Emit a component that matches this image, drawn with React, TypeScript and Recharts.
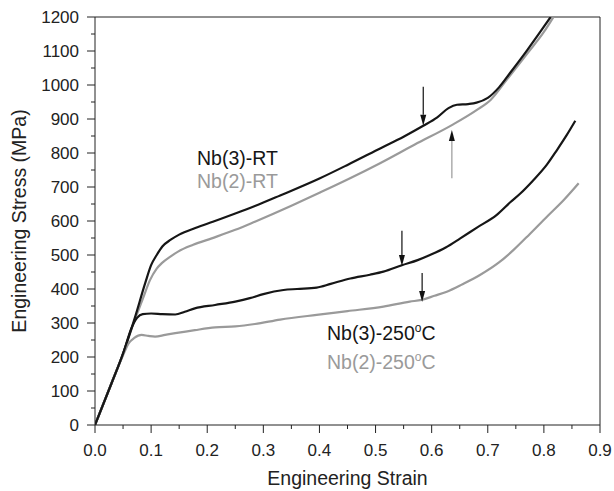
import { LineChart, Line, XAxis, YAxis, ReferenceLine } from "recharts";

const xTicks = [0, 0.05, 0.1, 0.15, 0.2, 0.25, 0.3, 0.35, 0.4, 0.45, 0.5, 0.55, 0.6, 0.65, 0.7, 0.75, 0.8, 0.85, 0.9];
const yTicks = [0, 50, 100, 150, 200, 250, 300, 350, 400, 450, 500, 550, 600, 650, 700, 750, 800, 850, 900, 950, 1000, 1050, 1100, 1150, 1200];

const nb3RT = [
  { strain: 0, stress: 0 }, { strain: 0.03, stress: 125 }, { strain: 0.05, stress: 210 },
  { strain: 0.07, stress: 310 }, { strain: 0.09, stress: 420 }, { strain: 0.1, stress: 470 },
  { strain: 0.11, stress: 500 }, { strain: 0.12, stress: 525 }, { strain: 0.135, stress: 545 },
  { strain: 0.15, stress: 560 }, { strain: 0.18, stress: 580 }, { strain: 0.21, stress: 598 },
  { strain: 0.25, stress: 622 }, { strain: 0.285, stress: 644 }, { strain: 0.33, stress: 675 },
  { strain: 0.4, stress: 725 }, { strain: 0.45, stress: 765 }, { strain: 0.51, stress: 815 },
  { strain: 0.55, stress: 848 }, { strain: 0.585, stress: 880 }, { strain: 0.61, stress: 905 },
  { strain: 0.63, stress: 932 }, { strain: 0.645, stress: 942 }, { strain: 0.665, stress: 944 },
  { strain: 0.68, stress: 948 }, { strain: 0.7, stress: 962 }, { strain: 0.72, stress: 993 },
  { strain: 0.74, stress: 1036 }, { strain: 0.77, stress: 1102 }, { strain: 0.79, stress: 1148 },
  { strain: 0.812, stress: 1200 },
];

const nb2RT = [
  { strain: 0, stress: 0 }, { strain: 0.03, stress: 125 }, { strain: 0.05, stress: 210 },
  { strain: 0.07, stress: 305 }, { strain: 0.085, stress: 370 }, { strain: 0.098, stress: 426 },
  { strain: 0.11, stress: 460 }, { strain: 0.119, stress: 476 }, { strain: 0.135, stress: 496 },
  { strain: 0.148, stress: 510 }, { strain: 0.175, stress: 530 }, { strain: 0.208, stress: 549 },
  { strain: 0.25, stress: 574 }, { strain: 0.285, stress: 598 }, { strain: 0.35, stress: 645 },
  { strain: 0.4, stress: 683 }, { strain: 0.45, stress: 722 }, { strain: 0.508, stress: 770 },
  { strain: 0.57, stress: 825 }, { strain: 0.636, stress: 882 }, { strain: 0.68, stress: 926 },
  { strain: 0.705, stress: 956 }, { strain: 0.734, stress: 1016 }, { strain: 0.77, stress: 1092 },
  { strain: 0.8, stress: 1156 }, { strain: 0.817, stress: 1200 },
];

const nb3HT = [
  { strain: 0, stress: 0 }, { strain: 0.03, stress: 125 }, { strain: 0.05, stress: 210 },
  { strain: 0.065, stress: 285 }, { strain: 0.075, stress: 315 }, { strain: 0.085, stress: 326 },
  { strain: 0.1, stress: 328 }, { strain: 0.12, stress: 326 }, { strain: 0.143, stress: 325 },
  { strain: 0.16, stress: 333 }, { strain: 0.178, stress: 343 }, { strain: 0.214, stress: 353 },
  { strain: 0.25, stress: 363 }, { strain: 0.276, stress: 373 }, { strain: 0.3, stress: 385 },
  { strain: 0.336, stress: 397 }, { strain: 0.36, stress: 400 }, { strain: 0.395, stress: 404 },
  { strain: 0.42, stress: 415 }, { strain: 0.455, stress: 431 }, { strain: 0.49, stress: 442 },
  { strain: 0.514, stress: 451 }, { strain: 0.547, stress: 470 }, { strain: 0.575, stress: 485 },
  { strain: 0.597, stress: 500 }, { strain: 0.625, stress: 522 }, { strain: 0.651, stress: 549 },
  { strain: 0.68, stress: 580 }, { strain: 0.716, stress: 618 }, { strain: 0.74, stress: 655 },
  { strain: 0.758, stress: 681 }, { strain: 0.78, stress: 718 }, { strain: 0.805, stress: 765 },
  { strain: 0.823, stress: 808 }, { strain: 0.84, stress: 851 }, { strain: 0.856, stress: 895 },
];

const nb2HT = [
  { strain: 0, stress: 0 }, { strain: 0.03, stress: 125 }, { strain: 0.05, stress: 205 },
  { strain: 0.06, stress: 240 }, { strain: 0.07, stress: 256 }, { strain: 0.083, stress: 265 },
  { strain: 0.095, stress: 262 }, { strain: 0.107, stress: 260 }, { strain: 0.125, stress: 265 },
  { strain: 0.143, stress: 270 }, { strain: 0.178, stress: 279 }, { strain: 0.214, stress: 287 },
  { strain: 0.25, stress: 290 }, { strain: 0.285, stress: 297 }, { strain: 0.33, stress: 310 },
  { strain: 0.395, stress: 324 }, { strain: 0.45, stress: 335 }, { strain: 0.514, stress: 348 },
  { strain: 0.561, stress: 363 }, { strain: 0.582, stress: 368 }, { strain: 0.605, stress: 380 },
  { strain: 0.627, stress: 392 }, { strain: 0.655, stress: 414 }, { strain: 0.686, stress: 441 },
  { strain: 0.72, stress: 478 }, { strain: 0.746, stress: 515 }, { strain: 0.775, stress: 562 },
  { strain: 0.805, stress: 612 }, { strain: 0.835, stress: 661 }, { strain: 0.862, stress: 711 },
];

// arrows marking the points on the curves (x, tail stress, tip stress)
const arrows = [
  { x: 0.585, from: 995, to: 880, line: "#111" },
  { x: 0.636, from: 726, to: 868, line: "#999" },
  { x: 0.547, from: 571, to: 468, line: "#111" },
  { x: 0.583, from: 447, to: 362, line: "#111" },
];

const BLACK = "#161616";
const GRAY = "#9a9a9a";
const AXIS = "#222";
const FONT = "'Liberation Sans', Arial, sans-serif";

const XTick = ({ x, y, payload }: any) => {
  const v = payload.value;
  const major = Math.round(v * 100) % 10 === 0;
  return (
    <g>
      <line x1={x} x2={x} y1={y} y2={y + (major ? 8 : 4)} stroke={AXIS} />
      {major && (
        <text x={x} y={y + 25} dy="0.35em" textAnchor="middle" fontSize={17} fill="#222" fontFamily={FONT}>
          {v.toFixed(1)}
        </text>
      )}
    </g>
  );
};

const YTick = ({ x, y, payload }: any) => {
  const v = payload.value;
  const major = v % 100 === 0;
  return (
    <g>
      <line x1={x - (major ? 8 : 4)} x2={x} y1={y} y2={y} stroke={AXIS} />
      {major && (
        <text x={x - 16} y={y} dy="0.35em" textAnchor="end" fontSize={17} fill="#222" fontFamily={FONT}>
          {v}
        </text>
      )}
    </g>
  );
};

const arrowShape = (color: string) => (props: any) => {
  const { x1, y1, x2, y2 } = props;
  const dir = y2 > y1 ? 1 : -1;
  const len = 11;
  const hw = 3;
  return (
    <g>
      <line x1={x1} y1={y1} x2={x2} y2={y2 - dir * len} stroke={color} strokeWidth={1.2} />
      <polygon points={`${x2},${y2} ${x2 - hw},${y2 - dir * len} ${x2 + hw},${y2 - dir * len}`} fill="#111" />
    </g>
  );
};

const App = () => {
  return (
    <div style={{ position: "absolute", left: 0, top: 0, background: "#fff" }}>
      <LineChart width={614} height={491} margin={{ top: 17, right: 14, left: 0, bottom: 0 }} style={{ fontFamily: FONT }}>
        <XAxis
          dataKey="strain"
          type="number"
          domain={[0, 0.9]}
          ticks={xTicks}
          interval={0}
          allowDataOverflow
          height={66}
          stroke={AXIS}
          tickSize={0}
          tickMargin={0}
          tick={<XTick />}
          label={{ value: "Engineering Strain", position: "insideBottom", offset: 6, fontSize: 19.5, fill: "#222" }}
        />
        <YAxis
          type="number"
          domain={[0, 1200]}
          ticks={yTicks}
          interval={0}
          allowDataOverflow
          width={95}
          stroke={AXIS}
          tickSize={0}
          tickMargin={0}
          tick={<YTick />}
          label={{
            value: "Engineering Stress (MPa)",
            angle: -90,
            position: "insideLeft",
            offset: 19,
            fontSize: 19.5,
            fill: "#222",
            style: { textAnchor: "middle" },
          }}
        />
        <ReferenceLine y={1200} stroke={AXIS} />
        <ReferenceLine x={0.9} stroke={AXIS} />
        <Line data={nb2RT} dataKey="stress" type="monotone" stroke={GRAY} strokeWidth={2.2} dot={false} isAnimationActive={false} />
        <Line data={nb3RT} dataKey="stress" type="monotone" stroke={BLACK} strokeWidth={2.2} dot={false} isAnimationActive={false} />
        <Line data={nb2HT} dataKey="stress" type="monotone" stroke={GRAY} strokeWidth={2.2} dot={false} isAnimationActive={false} />
        <Line data={nb3HT} dataKey="stress" type="monotone" stroke={BLACK} strokeWidth={2.2} dot={false} isAnimationActive={false} />
        {arrows.map((a, i) => (
          <ReferenceLine
            key={`arrow-${i}`}
            segment={[{ x: a.x, y: a.from }, { x: a.x, y: a.to }]}
            shape={arrowShape(a.line)}
          />
        ))}
      </LineChart>
      <svg width={614} height={491} style={{ position: "absolute", left: 0, top: 0, pointerEvents: "none" }}>
        <g fontFamily={FONT} fontSize={19.5}>
          <text x={197} y={158} dy="0.35em" fill={BLACK}>Nb(3)-RT</text>
          <text x={197} y={181} dy="0.35em" fill={GRAY}>Nb(2)-RT</text>
          <text x={327} y={333} dy="0.35em" fill={BLACK}>
            Nb(3)-250<tspan dy={-8} fontSize={12}>o</tspan><tspan dy={8}>C</tspan>
          </text>
          <text x={327} y={362} dy="0.35em" fill={GRAY}>
            Nb(2)-250<tspan dy={-8} fontSize={12}>o</tspan><tspan dy={8}>C</tspan>
          </text>
        </g>
      </svg>
    </div>
  );
};

export default App;
